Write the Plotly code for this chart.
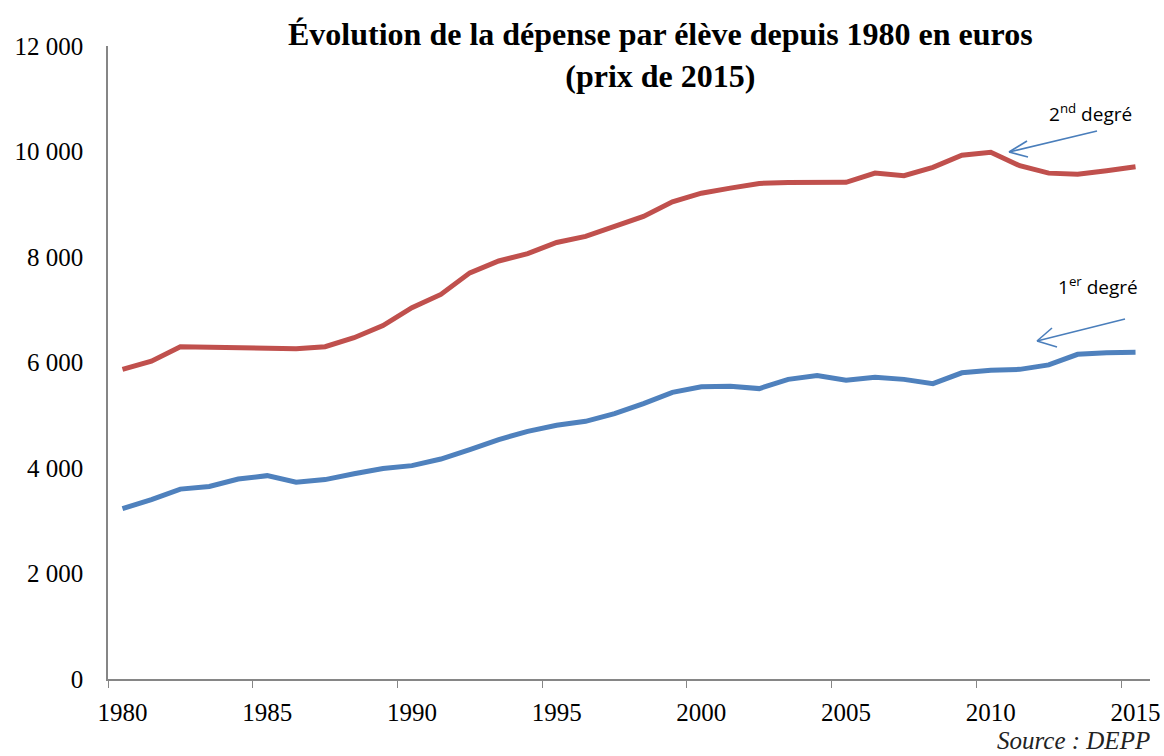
import plotly.graph_objects as go

years = list(range(1980, 2016))
second_degre = [5870, 6025, 6300, 6290, 6280, 6260, 6260, 6300, 6470, 6700, 7040, 7290,
                7700, 7925, 8065, 8275, 8390, 8580, 8770, 9045, 9210, 9305,
                9395, 9410, 9415, 9415, 9590, 9540, 9700, 9930, 9985, 9730, 9590, 9570, 9635, 9710]
premier_degre = [3230, 3400, 3600, 3650, 3790, 3855, 3730, 3780, 3890, 3990, 4045, 4170,
                 4350, 4540, 4695, 4810, 4885, 5030, 5220, 5435, 5540, 5550,
                 5505, 5680, 5755, 5665, 5720, 5680, 5600, 5805, 5855, 5870, 5955, 6155, 6185, 6195]
x_ticks = [1980, 1985, 1990, 1995, 2000, 2005, 2010, 2015]
y_ticks = [0, 2000, 4000, 6000, 8000, 10000, 12000]

W, H = 1164, 756
L, R, T, B = 108, 1150, 46, 679
SERIF = "Liberation Serif"

fig = go.Figure()
fig.add_trace(go.Scatter(x=years, y=second_degre, mode="lines", name="2nd degré",
                         line=dict(color="#C0504D", width=5)))
fig.add_trace(go.Scatter(x=years, y=premier_degre, mode="lines", name="1er degré",
                         line=dict(color="#4F81BD", width=5)))

def px(xp):
    return (xp - L) / (R - L)

def py(yp):
    return (B - yp) / (B - T)

arrow_col = "#4A7EBB"
arrows = [
    ((1097, 131), (1009, 152), (1027, 141), (1028, 157)),
    ((1125, 319), (1037, 341), (1052, 328), (1057, 347)),
]
shapes = []
for tail, head, w1, w2 in arrows:
    for a, b in ((tail, head), (head, w1), (head, w2)):
        shapes.append(dict(type="line", xref="paper", yref="paper",
                           x0=px(a[0]), y0=py(a[1]), x1=px(b[0]), y1=py(b[1]),
                           line=dict(color=arrow_col, width=1.6)))

annotations = [
    dict(text="<b>Évolution de la dépense par élève depuis 1980 en euros<br>(prix de 2015)</b>",
         xref="paper", yref="paper", x=px(660), y=py(55), xanchor="center", yanchor="middle",
         showarrow=False, font=dict(family=SERIF, size=32, color="black")),
    dict(text="2<sup>nd</sup> degré", xref="paper", yref="paper",
         x=px(1090), y=py(113), xanchor="center", yanchor="middle", showarrow=False,
         font=dict(family="Open Sans", size=19, color="black")),
    dict(text="1<sup>er</sup> degré", xref="paper", yref="paper",
         x=px(1098), y=py(286), xanchor="center", yanchor="middle", showarrow=False,
         font=dict(family="Open Sans", size=19, color="black")),
    dict(text="<i>Source : DEPP</i>", xref="paper", yref="paper",
         x=px(1152), y=py(740), xanchor="right", yanchor="middle", showarrow=False,
         font=dict(family=SERIF, size=25, color="#222222")),
]

fig.update_layout(
    width=W, height=H,
    margin=dict(l=L, r=W - R, t=T, b=H - B),
    paper_bgcolor="white", plot_bgcolor="white",
    showlegend=False,
    separators=", ",
    xaxis=dict(range=[1979.5, 2015.5], tickmode="array", tickvals=x_ticks,
               ticks="outside", ticklen=10, tickcolor="rgba(0,0,0,0)",
               showline=True, linecolor="#868686", linewidth=1.5,
               showgrid=False, zeroline=False, automargin=False,
               tickfont=dict(family=SERIF, size=25, color="black"),
               minor=dict(tick0=1979.5, dtick=5, ticks="outside", ticklen=7,
                          tickcolor="#868686", tickwidth=1.2, showgrid=False)),
    yaxis=dict(range=[0, 12000], tickmode="array", tickvals=y_ticks, tickformat=",d",
               ticks="outside", ticklen=18, tickcolor="rgba(0,0,0,0)",
               showline=True, linecolor="#868686", linewidth=1.5,
               showgrid=False, zeroline=False, automargin=False,
               tickfont=dict(family=SERIF, size=25, color="black")),
    shapes=shapes,
    annotations=annotations,
)

fig.write_html("out.html", config={"displayModeBar": False},
               post_script="document.body.style.margin='0';")
